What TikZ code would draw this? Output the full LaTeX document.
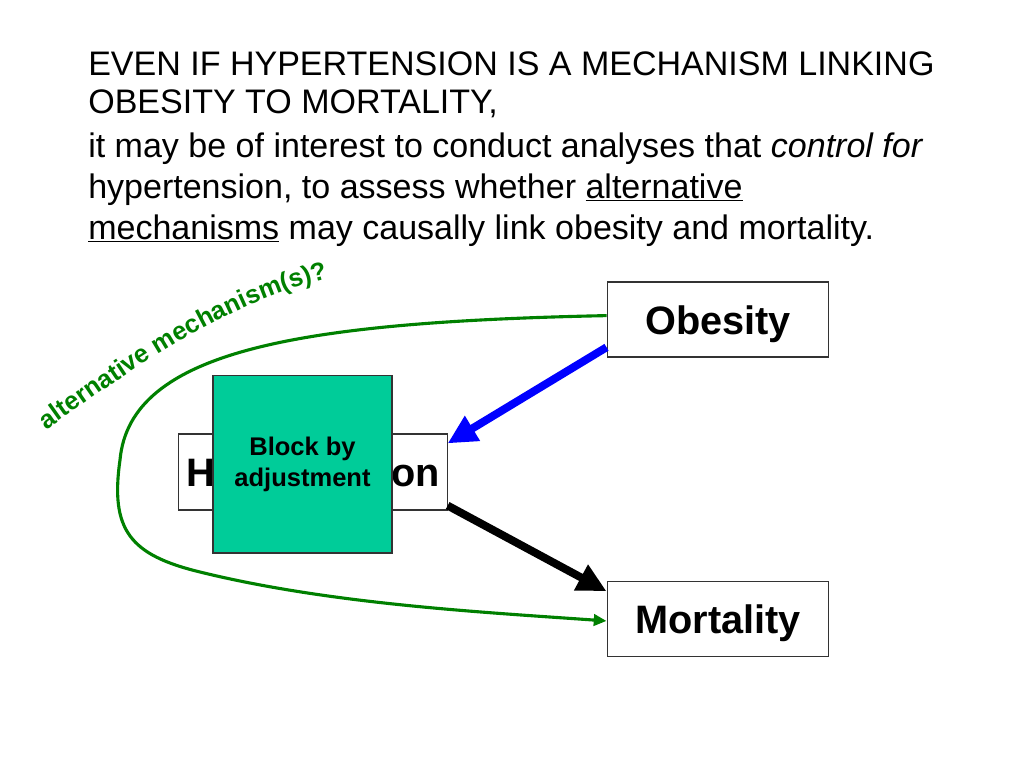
\documentclass[tikz,border=0pt]{standalone}
\usepackage{fontspec}
\setmainfont{Liberation Sans}
\usepackage{tikz}
\usetikzlibrary{arrows.meta}
\usetikzlibrary{decorations.text}
\usepackage{xcolor}
\definecolor{grn}{rgb}{0,0.5,0}
\definecolor{teal}{rgb}{0,0.8,0.6}
\definecolor{blu}{rgb}{0,0,1}

\begin{document}
\begin{tikzpicture}[x=0.0248cm, y=-0.0248cm,
		box/.style = {rectangle, draw=black!80, fill=white, line width=0.8pt, font=\fontsize{28}{34}\selectfont\bfseries, text height=21pt, text depth=0.5pt, minimum width=5.5cm, minimum height=1.86cm},
		blk/.style = {rectangle, draw=black!80, fill=teal, line width=0.8pt, font=\fontsize{18}{21.6}\selectfont\bfseries, align=center, minimum width=4.44cm, minimum height=4.41cm},
		r/.style = {-{Triangle[length=0.72cm, width=0.68cm]}, line width=5.6pt},
		g/.style = {-{Triangle[length=9pt, width=8pt]}, draw=grn, line width=2.2pt}
		]
		\useasboundingbox (0,0) rectangle (1024,768);
		
		%Text
		\node[anchor=north west, inner sep=0, align=left, font=\fontsize{24}{28.9}\selectfont] (txt) at (88, 51.5)
			{EVEN IF HYPERTENSION IS A MECHANISM LINKING\\[-2pt]
			OBESITY TO MORTALITY,\\[2pt]
			it may be of interest to conduct analyses that \emph{control for}\\
			hypertension, to assess whether \underline{alternative}\\
			\underline{mechanisms} may causally link obesity and mortality.};
		
		%Nodes
		\node[box]	(obs)	at	(718, 319.5)	{Obesity};
		\node[box]	(mort)	at	(718, 619)	{Mortality};
		\node[box, minimum width=6.65cm, minimum height=1.885cm]	(hyp)	at	(313, 472)	{Hypertension};
		\node[blk]	(blk)	at	(302.5, 464)	{\rule{0pt}{14pt}Block by\\adjustment};
		
		%Lines
		\draw[r, draw=blu]	(obs.194)	to	(hyp.12);
		\draw[r, draw=black]	(hyp.-14)	to	(mort.166);
		\draw[g]	(obs.178) .. controls (300,322) and (130,350) .. (120,460)
			.. controls (110,530) and (130,555) .. (200,572)
			.. controls (330,604) and (480,612) .. (mort.181);
		\path[decorate, decoration={text along path, text align={align=center}, text color=grn,
			text={|\fontsize{18}{21.6}\selectfont\bfseries|alternative mechanism(s)?}}]
			(38,436) .. controls (120,378) and (225,300) .. (338,276);
	\end{tikzpicture}
\end{document}
